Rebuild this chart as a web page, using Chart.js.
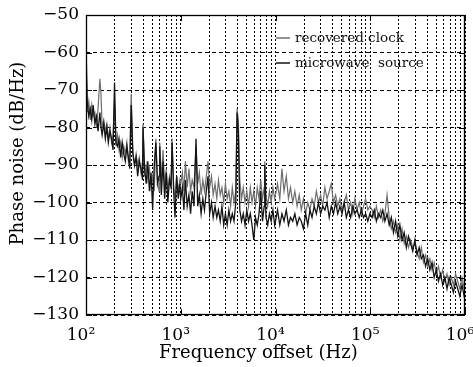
<!DOCTYPE html>
<html>
<head>
<meta charset="utf-8">
<script src="https://cdn.jsdelivr.net/npm/chart.js@4.4.0/dist/chart.umd.min.js"></script>
<style>
  html, body { margin: 0; padding: 0; background: #fff; }
</style>
</head>
<body>
<canvas id="chartNoise" width="473" height="367"></canvas>
<script>
// frequency offset (Hz)
const freqs = [
  100, 103, 107, 111, 115, 119, 124, 129, 134, 140,
  144, 148, 154, 160, 166, 172, 179, 186, 193, 200,
  207, 215, 223, 232, 241, 250, 260, 270, 280, 290,
  300, 312, 325, 338, 351, 365, 380, 395, 400, 415,
  432, 449, 467, 486, 505, 525, 546, 568, 590, 600,
  624, 650, 676, 703, 731, 760, 790, 810, 842, 870,
  905, 941, 978,
  1000, 1040, 1080, 1120, 1170, 1220, 1270, 1320, 1380, 1450,
  1510, 1570, 1640, 1710, 1780, 1860, 1940, 2020, 2110, 2200,
  2300, 2400, 2500, 2610, 2720, 2840, 2960, 3090, 3220, 3360,
  3500, 3650, 3810, 3930, 4050, 4200, 4380, 4570, 4770, 4980,
  5190, 5420, 5650, 5900, 6150, 6420, 6700, 6990, 7290, 7600,
  7700, 7930, 8270, 8630, 9000, 9390, 9800,
  10000, 10500, 11100, 11700, 12300, 13000, 13700, 14400, 15200, 16000,
  16900, 17800, 18700, 19700, 20800, 21900, 23100, 24300, 25600, 27000,
  28400, 29900, 31500, 33200, 35000, 36900, 38800, 40900, 43100, 45400,
  47800, 50400, 53100, 55900, 58900, 62100, 65400, 68900, 72600, 76500,
  80600, 84900, 89400, 94200, 99200,
  104500, 110100, 116000, 122200, 128700, 135600, 142800, 150400, 158500, 166900,
  175800, 185200, 195100, 205500, 216500, 228100, 240300, 253100, 266600, 280900,
  295900, 311700, 328300, 345900, 364300, 383800, 404300, 425900, 448700, 472600,
  497900, 524500, 552500, 582000, 613100, 645900, 680400, 716700, 755000, 795300,
  837800, 882600, 929800, 979400, 1000000
];

// phase noise (dB/Hz)
const recoveredClock = [
  -62, -76, -73, -78, -74, -77, -76, -80, -75, -67,
  -71, -80, -78, -81, -79, -83, -80, -84, -82, -73,
  -85, -82, -86, -84, -88, -85, -87, -84, -89, -87,
  -71, -86, -90, -87, -90, -88, -92, -89, -79, -93,
  -90, -94, -91, -96, -93, -97, -83, -94, -97, -84,
  -94, -86, -96, -91, -97, -93, -95, -83, -96, -99,
  -93, -97, -94,
  -95, -92, -97, -89, -96, -91, -97, -94, -96, -85,
  -95, -92, -98, -94, -97, -93, -89, -96, -93, -98,
  -95, -99, -94, -98, -96, -100, -95, -99, -97, -101,
  -96, -100, -97, -75, -78, -94, -99, -96, -100, -97,
  -101, -96, -100, -97, -101, -96, -99, -94, -99, -96,
  -89, -98, -101, -97, -100, -96, -99,
  -98, -95, -99, -91, -97, -93, -99, -96, -100, -97,
  -101, -98, -102, -99, -103, -100, -102, -99, -101, -97,
  -100, -98, -101, -96, -99, -97, -95, -100, -98, -101,
  -99, -102, -100, -98, -102, -100, -103, -99, -102, -100,
  -103, -101, -99, -102, -101,
  -102, -104, -101, -104, -102, -105, -103, -98, -104, -107,
  -105, -108, -106, -110, -107, -111, -109, -112, -110, -112,
  -111, -113, -115, -112, -116, -114, -117, -115, -118, -116,
  -119, -117, -120, -118, -121, -119, -122, -120, -122, -119,
  -121, -123, -120, -123, -121
];

const microwaveSource = [
  -58, -73, -77, -75, -78, -74, -79, -77, -81, -76,
  -80, -82, -79, -83, -80, -84, -81, -83, -86, -68,
  -84, -85, -83, -88, -84, -87, -89, -85, -88, -91,
  -74, -87, -90, -88, -93, -89, -91, -94, -80, -91,
  -95, -89, -97, -92, -102, -90, -84, -95, -93, -85,
  -98, -89, -99, -92, -100, -94, -96, -84, -97, -104,
  -93, -99, -95,
  -99, -96, -102, -94, -101, -98, -103, -97, -101, -83,
  -101, -98, -103, -99, -102, -97, -93, -103, -100, -104,
  -101, -104, -102, -105, -101, -106, -103, -106, -102, -105,
  -103, -105, -100, -76, -81, -102, -105, -103, -106, -102,
  -105, -103, -106, -110, -104, -106, -103, -97, -105, -101,
  -90, -104, -106, -103, -105, -102, -106,
  -105, -102, -106, -103, -105, -102, -106, -104, -105, -103,
  -106, -104, -105, -107, -103, -106, -102, -104, -101, -103,
  -100, -103, -101, -102, -100, -104, -101, -103, -100, -103,
  -101, -103, -100, -104, -102, -104, -101, -103, -102, -104,
  -102, -104, -103, -105, -103,
  -104, -102, -105, -103, -104, -102, -105, -103, -106, -104,
  -108, -105, -109, -106, -110, -108, -112, -109, -111, -113,
  -110, -114, -112, -115, -114, -117, -115, -118, -116, -120,
  -118, -121, -119, -122, -120, -123, -120, -122, -124, -121,
  -123, -125, -122, -125, -123
];

const seriesNames = ["recovered clock", "microwave  source"];
const seriesColors = ["#6e6e6e", "#141414"];
const xDecades = [100, 1000, 10000, 100000, 1000000];
const xTickLabels = ["10²", "10³", "10⁴", "10⁵", "10⁶"];
const yMin = -130, yMax = -50, yStep = 10;

const FONT = "'DejaVu Serif', 'Liberation Serif', serif";
const NB = "\u00a0";

function toPoints(values) {
  return values.map((v, i) => ({ x: freqs[i], y: v }));
}

// box, inside ticks and legend
const framePlugin = {
  id: "frame",
  afterDatasetsDraw(chart) {
    const ctx = chart.ctx;
    const a = chart.chartArea;
    const xs = chart.scales.x, ys = chart.scales.y;
    ctx.save();
    ctx.setLineDash([]);
    ctx.strokeStyle = "#000";
    ctx.lineWidth = 1.3;
    ctx.strokeRect(Math.round(a.left) + 0.5, Math.round(a.top) + 0.5,
      Math.round(a.right - a.left) - 1, Math.round(a.bottom - a.top) - 1);
    ctx.lineWidth = 1;
    ctx.beginPath();
    xDecades.forEach(v => {
      const px = Math.round(xs.getPixelForValue(v)) + 0.5;
      ctx.moveTo(px, a.bottom); ctx.lineTo(px, a.bottom - 6);
      ctx.moveTo(px, a.top); ctx.lineTo(px, a.top + 6);
    });
    for (let v = yMin; v <= yMax; v += yStep) {
      const py = Math.round(ys.getPixelForValue(v)) + 0.5;
      ctx.moveTo(a.left, py); ctx.lineTo(a.left + 6, py);
      ctx.moveTo(a.right, py); ctx.lineTo(a.right - 6, py);
    }
    ctx.stroke();

    // legend
    ctx.font = "13.5px " + FONT;
    ctx.textBaseline = "middle";
    ctx.textAlign = "left";
    seriesNames.forEach((name, i) => {
      const y = a.top + 23 + i * 25;
      const x0 = a.left + 190;
      ctx.strokeStyle = seriesColors[i];
      ctx.lineWidth = 1.5;
      ctx.beginPath();
      ctx.moveTo(x0, y); ctx.lineTo(x0 + 14, y);
      ctx.stroke();
      ctx.fillStyle = "#111";
      ctx.fillText(name, x0 + 19, y);
    });
    ctx.restore();
  }
};

new Chart(document.getElementById("chartNoise"), {
  type: "line",
  data: {
    datasets: [
      {
        label: seriesNames[0],
        data: toPoints(recoveredClock),
        borderColor: seriesColors[0],
        borderWidth: 1.2,
        pointRadius: 0,
        tension: 0,
        fill: false,
        order: 1
      },
      {
        label: seriesNames[1],
        data: toPoints(microwaveSource),
        borderColor: seriesColors[1],
        borderWidth: 1.3,
        pointRadius: 0,
        tension: 0,
        fill: false,
        order: 0
      }
    ]
  },
  options: {
    responsive: false,
    animation: false,
    devicePixelRatio: 1,
    layout: { padding: { top: 15, right: 8, left: 0, bottom: 0 } },
    plugins: {
      legend: { display: false },
      tooltip: { enabled: false }
    },
    scales: {
      x: {
        type: "logarithmic",
        min: 100,
        max: 1000000,
        afterBuildTicks(scale) {
          const t = [];
          for (let d = 0; d < xDecades.length - 1; d++) {
            for (let m = 1; m <= 9; m++) t.push({ value: m * xDecades[d] });
          }
          t.push({ value: xDecades[xDecades.length - 1] });
          scale.ticks = t;
        },
        afterFit(scale) {
          scale.height = 52;
          scale.paddingLeft = 0;
          scale.paddingRight = 0;
        },
        ticks: {
          autoSkip: false,
          maxRotation: 0,
          padding: 10,
          labelOffset: -5,
          color: "#000",
          font: { family: FONT, size: 17 },
          callback: function (value) {
            const i = xDecades.indexOf(value);
            return i >= 0 ? xTickLabels[i] : "";
          }
        },
        grid: { color: "#000", lineWidth: 1, drawTicks: false },
        border: { display: false, dash: [2, 2] },
        title: {
          display: true,
          text: "Frequency offset (Hz)" + NB.repeat(6),
          color: "#000",
          font: { family: FONT, size: 18 },
          padding: { top: 0, bottom: 3 }
        }
      },
      y: {
        min: yMin,
        max: yMax,
        afterFit(scale) {
          scale.width = 86;
          scale.paddingTop = 0;
          scale.paddingBottom = 0;
        },
        ticks: {
          stepSize: yStep,
          padding: 7,
          color: "#000",
          font: { family: FONT, size: 17 },
          callback: v => (v < 0 ? "\u2212" : "") + Math.abs(v)
        },
        grid: { color: "#000", lineWidth: 1, drawTicks: false },
        border: { display: false, dash: [4, 3] },
        title: {
          display: true,
          text: NB.repeat(4) + "Phase noise (dB/Hz)",
          color: "#000",
          font: { family: FONT, size: 18 },
          padding: { top: 8, bottom: 0 }
        }
      }
    }
  },
  plugins: [framePlugin]
});
</script>
</body>
</html>
